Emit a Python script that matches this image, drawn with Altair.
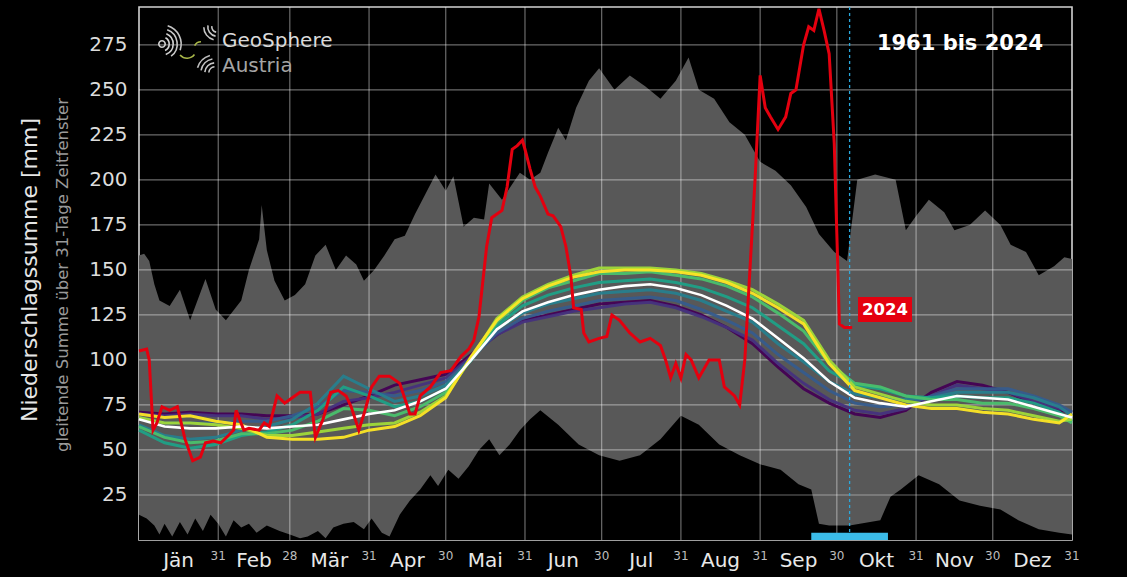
import altair as alt
import pandas as pd

FONT = "DejaVu Sans"
PW, PH = 933, 533

# ---------------------------------------------------------------------------
# Climatological curves of the 31-day running precipitation sum (mm),
# sampled every 10 days of the year (day 0 = 1 January).
# ---------------------------------------------------------------------------
knot_days = [0, 10, 20, 30, 40, 50, 60, 70, 80, 90, 100, 110, 120, 130, 140, 150,
             160, 170, 180, 190, 200, 210, 220, 230, 240, 250, 260, 270, 280, 290,
             300, 310, 320, 330, 340, 350, 360, 365]

mean_all = [67, 63, 62, 62, 63, 62, 63, 64, 67, 70, 72, 77, 84, 100, 117, 127, 132, 136,
            139, 141, 142, 140, 136, 130, 123, 112, 101, 88, 79, 76, 74, 77, 80, 79, 78,
            74, 70, 68]

periods = ["1961–1990", "1966–1995", "1971–2000", "1976–2005",
           "1981–2010", "1986–2015", "1991–2020", "1995–2024"]
period_colors = ["#440154", "#46327e", "#365c8d", "#277f8e",
                 "#1fa187", "#4ac16d", "#a0da39", "#fde725"]

clim_1961 = [71, 70, 71, 70, 70, 69, 69, 70, 75, 80, 86, 89, 92, 103, 114, 122, 125, 128,
             131, 132, 133, 130, 125, 118, 109, 96, 84, 76, 70, 68, 72, 82, 88, 86, 82, 76,
             72, 71]
clim_1966 = [70, 69, 70, 69, 69, 67, 68, 70, 77, 79, 82, 86, 90, 102, 114, 121, 124, 127,
             129, 131, 132, 129, 124, 118, 111, 98, 87, 78, 72, 70, 73, 80, 86, 84, 82, 77,
             73, 71]
clim_1971 = [68, 65, 65, 65, 66, 66, 69, 74, 83, 82, 80, 83, 88, 101, 115, 123, 127, 130,
             133, 134, 135, 133, 128, 122, 115, 103, 93, 83, 76, 74, 75, 80, 84, 84, 84, 80,
             75, 71]
clim_1976 = [64, 58, 56, 57, 61, 63, 67, 76, 91, 84, 77, 80, 86, 100, 117, 126, 131, 134,
             137, 138, 139, 137, 133, 127, 121, 109, 99, 88, 81, 79, 78, 79, 82, 82, 82, 79,
             74, 69]
clim_1981 = [61, 54, 51, 53, 58, 60, 64, 72, 85, 80, 74, 77, 84, 100, 119, 130, 136, 140,
             143, 144, 145, 143, 140, 135, 129, 119, 109, 94, 86, 84, 80, 79, 80, 79, 79, 76,
             71, 66]
clim_1986 = [63, 57, 54, 55, 59, 59, 61, 66, 73, 72, 69, 74, 82, 101, 121, 133, 140, 144,
             148, 148, 149, 147, 145, 141, 135, 126, 116, 98, 87, 85, 80, 78, 78, 76, 76, 73,
             69, 65]
clim_1991 = [68, 65, 65, 64, 62, 58, 58, 60, 62, 64, 65, 71, 80, 101, 123, 135, 142, 147,
             151, 151, 151, 150, 148, 144, 139, 131, 122, 100, 85, 81, 77, 75, 75, 73, 72, 69,
             66, 67]
clim_1995 = [70, 68, 69, 66, 64, 57, 56, 56, 57, 61, 63, 69, 79, 102, 122, 134, 141, 146,
             149, 150, 150, 149, 147, 143, 137, 129, 120, 98, 83, 79, 75, 73, 73, 71, 70, 67,
             65, 70]
clim_curves = [clim_1961, clim_1966, clim_1971, clim_1976,
               clim_1981, clim_1986, clim_1991, clim_1995]

# Highest and lowest 31-day sums of all years 1961-2024
max_days = [0, 2, 4, 6, 8, 12, 16, 20, 26, 30, 34, 40, 43, 47, 48, 50, 53, 57, 61, 65,
            69, 73, 77, 81, 85, 88, 92, 96, 100, 104, 108, 112, 116, 120, 123, 127, 131,
            135, 137, 142, 149, 153, 157, 160, 164, 167, 171, 176, 180, 186, 192, 198,
            204, 210, 215, 219, 225, 231, 237, 243, 249, 255, 261, 266, 272, 277, 281,
            288, 296, 300, 304, 309, 315, 319, 325, 331, 337, 341, 347, 352, 358, 362, 365]
max_vals = [158, 159, 155, 142, 133, 130, 139, 122, 145, 128, 122, 133, 150, 167, 186,
            161, 144, 133, 136, 142, 158, 164, 150, 158, 153, 144, 150, 158, 167, 169, 181,
            192, 203, 194, 202, 174, 179, 178, 198, 189, 204, 200, 204, 215, 229, 222, 240,
            255, 262, 250, 258, 252, 245, 255, 268, 250, 245, 232, 225, 210, 205, 197, 185,
            170, 160, 155, 200, 203, 200, 172, 180, 189, 182, 172, 175, 183, 175, 164, 160,
            147, 152, 157, 156]

min_days = [0, 3, 6, 8, 10, 13, 16, 19, 22, 25, 28, 31, 34, 37, 40, 43, 46, 50, 55, 59,
            63, 66, 70, 73, 76, 80, 84, 88, 91, 95, 98, 102, 106, 110, 114, 117, 121,
            125, 129, 133, 137, 141, 145, 149, 153, 157, 164, 172, 180, 188, 196, 204,
            212, 219, 227, 235, 243, 251, 258, 263, 266, 270, 278, 286, 290, 294, 298,
            305, 313, 321, 329, 337, 344, 352, 360, 365]
min_vals = [14, 12, 8, 3, 9, 2, 10, 3, 12, 5, 14, 9, 2, 11, 7, 9, 4, 8, 5, 3, 1, 2, 5, 1,
            7, 9, 10, 6, 12, 4, 2, 14, 22, 28, 36, 30, 39, 34, 41, 50, 56, 47, 53, 61, 67,
            72, 64, 53, 47, 44, 47, 56, 69, 64, 53, 47, 42, 39, 31, 28, 9, 8, 8, 10, 11,
            24, 28, 36, 31, 22, 19, 17, 11, 6, 4, 3]

# Year 2024 (running sum up to the last available day)
red_days = [0, 3, 4, 5.5, 7, 9, 12, 15, 18, 21, 24, 26, 29, 32, 35, 37, 38, 41, 43, 47,
            49, 51, 54, 57, 59, 63, 67, 69, 72, 75, 78, 81, 83, 86, 88, 91, 94, 98, 102,
            106, 108, 110, 114, 118, 122, 126, 129, 131, 133, 136, 138, 142, 144, 146, 148,
            150, 151, 153, 155, 157, 160, 162, 165, 167, 169, 170, 173, 174, 176, 180, 183,
            185, 188, 192, 196, 200, 204, 206, 208, 210, 212, 214, 216, 219, 223, 227, 229,
            233, 235, 237, 239, 241, 243, 245, 247, 250, 253, 255, 257, 260, 262, 264, 266,
            268, 270, 272, 273, 274, 276, 279]
red_vals = [105, 106, 100, 61, 65, 74, 72, 74, 56, 44, 46, 54, 55, 54, 58, 61, 72, 61, 62,
            61, 65, 63, 80, 76, 78, 82, 82, 57, 67, 82, 83, 80, 74, 61, 70, 85, 91, 91, 87,
            70, 70, 80, 85, 93, 94, 102, 106, 111, 124, 163, 179, 183, 196, 217, 219, 222,
            217, 206, 196, 191, 181, 180, 174, 163, 146, 129, 128, 115, 110, 112, 113, 125,
            122, 115, 110, 112, 108, 100, 90, 98, 90, 103, 100, 90, 100, 100, 85, 80, 75,
            100, 150, 200, 258, 240, 235, 228, 235, 248, 250, 275, 285, 283, 295, 283, 270,
            220, 170, 120, 118, 118]

current_day = 278           # last day of the 2024 series
window_days = [263, 293]    # 31-day window around it

month_names = ["Jän", "Feb", "Mär", "Apr", "Mai", "Jun",
               "Jul", "Aug", "Sep", "Okt", "Nov", "Dez"]
month_lengths = [31, 28, 31, 30, 31, 30, 31, 31, 30, 31, 30, 31]
y_ticks = [25, 50, 75, 100, 125, 150, 175, 200, 225, 250, 275]

# ---------------------------------------------------------------------------
month_end = []
acc = 0
for n in month_lengths:
    acc += n
    month_end.append(acc)
month_mid = [e - n / 2 for e, n in zip(month_end, month_lengths)]

xs = alt.Scale(domain=[0, 365], nice=False, zero=False)
ys = alt.Scale(domain=[0, 296], nice=False, zero=True)
y_axis = alt.Axis(values=y_ticks, labelFontSize=20, labelColor="#dcdcdc",
                  labelFont=FONT, ticks=False, domain=False, grid=False,
                  title=None, labelPadding=12)


def X(field="day"):
    return alt.X(f"{field}:Q", scale=xs, axis=None)


def Y(field):
    return alt.Y(f"{field}:Q", scale=ys, axis=y_axis)


env_max = pd.DataFrame({"day": max_days, "v": max_vals})
env_min = pd.DataFrame({"day": min_days, "v": min_vals})

upper = alt.Chart(env_max).mark_area(color="#585858", opacity=1).encode(
    x=X(), y=Y("v"), y2=alt.datum(0))
lower = alt.Chart(env_min).mark_area(color="#000000", opacity=1).encode(
    x=X(), y=Y("v"), y2=alt.datum(0))

grid_x = alt.Chart(pd.DataFrame({"day": month_end[:-1]})).mark_rule(
    color="#ffffff", opacity=0.42, strokeWidth=1.2).encode(x=X())
grid_y = alt.Chart(pd.DataFrame({"v": y_ticks})).mark_rule(
    color="#ffffff", opacity=0.42, strokeWidth=1.2).encode(y=Y("v"))

rows = []
for name, curve in zip(periods, clim_curves):
    for d, v in zip(knot_days, curve):
        rows.append({"period": name, "day": d, "v": v})
clim_df = pd.DataFrame(rows)
clim = alt.Chart(clim_df).mark_line(strokeWidth=3.0, opacity=0.95).encode(
    x=X(), y=Y("v"),
    color=alt.Color("period:N", scale=alt.Scale(domain=periods, range=period_colors),
                    legend=None),
    detail="period:N")

mean_line = alt.Chart(pd.DataFrame({"day": knot_days, "v": mean_all})).mark_line(
    color="#ffffff", strokeWidth=2.6).encode(x=X(), y=Y("v"))

now_rule = alt.Chart(pd.DataFrame({"day": [current_day]})).mark_rule(
    color="#2aa8dc", strokeWidth=1.3, strokeDash=[3, 3]).encode(x=X())

window_bar = alt.Chart(pd.DataFrame({"a": [window_days[0]], "b": [window_days[1]],
                                     "lo": [0], "hi": [4]})).mark_rect(
    color="#3bbbe8").encode(x=X("a"), x2="b:Q", y=Y("lo"), y2="hi:Q")

red_line = alt.Chart(pd.DataFrame({"day": red_days, "v": red_vals})).mark_line(
    color="#e4000f", strokeWidth=3).encode(x=X(), y=Y("v"))

# label for the current year next to the end of its curve
one = pd.DataFrame({"t": ["2024"]})
lab_box = alt.Chart(one).mark_rect(color="#e4000f").encode(
    x=alt.value(719), x2=alt.value(773), y=alt.value(290), y2=alt.value(315))
lab_txt = alt.Chart(one).mark_text(font=FONT, fontSize=16.5, fontWeight="bold",
                                   color="#ffffff", baseline="middle").encode(
    x=alt.value(746), y=alt.value(303), text="t:N")

# month names and month lengths under the plot
months = alt.Chart(pd.DataFrame({"day": month_mid, "m": month_names})).mark_text(
    font=FONT, fontSize=20, color="#e8e8e8", baseline="alphabetic").encode(
    x=X(), y=alt.value(560), text="m:N")
ndays = alt.Chart(pd.DataFrame({"day": month_end, "n": [str(n) for n in month_lengths]})
                  ).mark_text(font=FONT, fontSize=12, color="#bdbdbd",
                              baseline="alphabetic").encode(
    x=X(), y=alt.value(553), text="n:N")

ytitle = alt.Chart(pd.DataFrame({"t": ["Niederschlagssumme [mm]"]})).mark_text(
    font=FONT, fontSize=22, color="#e6e6e6", angle=270, baseline="middle").encode(
    x=alt.value(-109), y=alt.value(263), text="t:N")
ysub = alt.Chart(pd.DataFrame({"t": ["gleitende Summe über 31-Tage Zeitfenster"]})
                 ).mark_text(font=FONT, fontSize=16.5, color="#9a9a9a", angle=270,
                             baseline="middle").encode(
    x=alt.value(-76), y=alt.value(268), text="t:N")

title = alt.Chart(pd.DataFrame({"t": ["1961 bis 2024"]})).mark_text(
    font=FONT, fontSize=21, fontWeight="bold", color="#ffffff", baseline="middle").encode(
    x=alt.value(821), y=alt.value(37), text="t:N")

logo1 = alt.Chart(pd.DataFrame({"t": ["GeoSphere"]})).mark_text(
    font=FONT, fontSize=20, color="#dadada", align="left", baseline="alphabetic").encode(
    x=alt.value(83), y=alt.value(40), text="t:N")
logo2 = alt.Chart(pd.DataFrame({"t": ["Austria"]})).mark_text(
    font=FONT, fontSize=20, color="#a5a5a5", align="left", baseline="alphabetic").encode(
    x=alt.value(83), y=alt.value(65), text="t:N")

# ripple emblem of the logo, drawn as thin arc strokes
# (cx, cy, radius, start angle, end angle, colour); angles clockwise from 12 o'clock
arc_specs = [
    (23, 37, 4.0, 0.0, 6.28, "#d4d4d4"),
    (23, 37, 8.0, 0.5, 2.7, "#d4d4d4"),
    (23, 37, 12.0, 0.4, 2.8, "#cfcfcf"),
    (23, 37, 16.0, 0.35, 2.5, "#c8c8c8"),
    (23, 37, 20.0, 0.3, 1.9, "#c4c4c4"),
    (78, 20, 6.0, 3.3, 4.9, "#c8c8c8"),
    (78, 20, 10.0, 3.3, 4.9, "#c8c8c8"),
    (78, 20, 14.0, 3.4, 4.7, "#c4c4c4"),
    (76, 66, 7.0, 4.8, 6.2, "#c8c8c8"),
    (76, 66, 11.0, 4.8, 6.2, "#c8c8c8"),
    (76, 66, 15.0, 4.9, 6.1, "#c4c4c4"),
    (76, 66, 19.0, 5.0, 6.0, "#bdbdbd"),
    (48, 42, 10.0, 2.2, 4.0, "#aab84a"),
    (62, 42, 8.0, 5.2, 6.28, "#aab84a"),
]
emblem = []
for cx, cy, r, t0, t1, col in arc_specs:
    emblem.append(alt.Chart(one).mark_arc(
        theta=t0, theta2=t1, radius=r, radius2=r - 1.6, color=col).encode(
        x=alt.value(cx), y=alt.value(cy)))

chart = alt.layer(
    upper, lower, grid_x, grid_y, clim, mean_line, now_rule, window_bar, red_line,
    lab_box, lab_txt, months, ndays, ytitle, ysub, title, logo1, logo2, *emblem
).properties(
    width=PW, height=PH, background="#000000",
    padding={"left": 139, "top": 7, "right": 55, "bottom": 37},
    autosize=alt.AutoSizeParams(type="none"),
).configure_view(stroke="#d2d2d2", strokeWidth=1.6)

chart.save("out.html", embed_options={"renderer": "svg", "actions": False})
